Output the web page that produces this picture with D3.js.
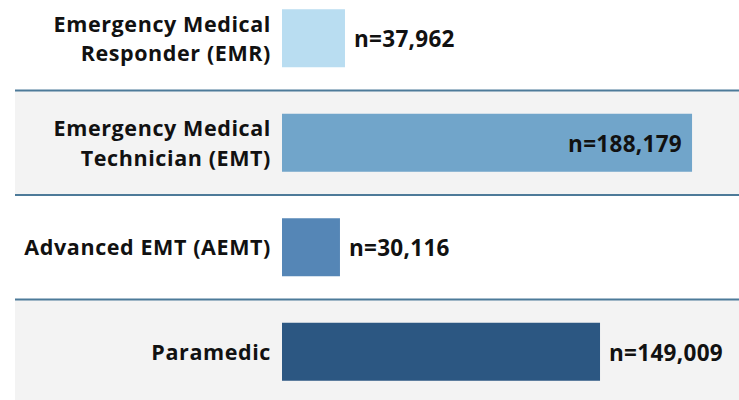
<html>
<head>
    <style>
        body { margin: 0; background: #fff; }
        svg { display: block; }
    </style>
</head>
<body>
    <div id="chart"></div>
    <script src="https://d3js.org/d3.v7.min.js"></script>
    <script>
        // Categorias (duas linhas quando precisa)
        const categories = ["EMR", "EMT", "AEMT", "Paramedic"];
        const labelLines = [
            ["Emergency Medical", "Responder (EMR)"],
            ["Emergency Medical", "Technician (EMT)"],
            ["Advanced EMT (AEMT)"],
            ["Paramedic"]
        ];
        // n mostrado em cada barra
        const counts = [37962, 188179, 30116, 149009];
        // comprimento das barras (não é proporcional ao n)
        const barValues = [28900, 188179, 26600, 145950];
        const colors = ["#b9ddf1", "#71a5ca", "#5586b6", "#2c5782"];

        const W = 739, H = 400;
        const barLeft = 282;

        const svg = d3.select("#chart").append("svg")
            .attr("width", W)
            .attr("height", H)
            .style("font-family", "'Open Sans', sans-serif");

        const y = d3.scaleBand()
            .domain(categories)
            .range([-14, 404])
            .paddingInner(0);

        const x = d3.scaleLinear()
            .domain([0, 200000])
            .range([0, 435.8]);

        const fmt = d3.format(",");

        // faixas cinzas nas linhas pares
        svg.selectAll("rect.band")
            .data(categories.filter((d, i) => i % 2 === 1))
            .join("rect")
            .attr("class", "band")
            .attr("x", 15)
            .attr("y", d => y(d))
            .attr("width", W - 15)
            .attr("height", y.bandwidth())
            .attr("fill", "#f3f3f3");

        // linhas separadoras
        svg.selectAll("line.sep")
            .data(categories.slice(1))
            .join("line")
            .attr("class", "sep")
            .attr("x1", 15)
            .attr("x2", W)
            .attr("y1", d => y(d))
            .attr("y2", d => y(d))
            .attr("stroke", "#4d7a99")
            .attr("stroke-width", 2);

        const barH = 58;
        const rows = categories.map((c, i) => ({
            cat: c, lines: labelLines[i], n: counts[i], v: barValues[i], color: colors[i]
        }));

        // barras
        svg.selectAll("rect.bar")
            .data(rows)
            .join("rect")
            .attr("class", "bar")
            .attr("x", barLeft)
            .attr("y", d => y(d.cat) + y.bandwidth() / 2 - barH / 2)
            .attr("width", d => x(d.v))
            .attr("height", barH)
            .attr("fill", d => d.color);

        // rótulos das categorias
        const lineH = 29.5;
        svg.selectAll("text.cat")
            .data(rows)
            .join("text")
            .attr("class", "cat")
            .attr("text-anchor", "end")
            .style("font-size", "21.5px")
            .style("font-weight", 700)
            .style("letter-spacing", "0.6px")
            .attr("fill", "#111")
            .each(function(d) {
                const cy = y(d.cat) + y.bandwidth() / 2;
                const start = cy - (d.lines.length - 1) * lineH / 2;
                d3.select(this).selectAll("tspan")
                    .data(d.lines)
                    .join("tspan")
                    .attr("x", 271)
                    .attr("y", (l, i) => start + i * lineH)
                    .attr("dy", "0.38em")
                    .text(l => l);
            });

        // rótulos n=
        svg.selectAll("text.val")
            .data(rows)
            .join("text")
            .attr("class", "val")
            .style("font-size", "22.5px")
            .style("font-weight", 700)
            .style("letter-spacing", "0.3px")
            .attr("fill", "#111")
            .attr("y", d => y(d.cat) + y.bandwidth() / 2)
            .attr("dy", "0.4em")
            .text(d => "n=" + fmt(d.n))
            .each(function(d) {
                const tw = this.getComputedTextLength();
                const end = barLeft + x(d.v);
                const t = d3.select(this);
                if (end + 10 + tw > W) {
                    t.attr("x", end - 10).attr("text-anchor", "end");
                } else {
                    t.attr("x", end + 9).attr("text-anchor", "start");
                }
            });
    </script>
</body>
</html>
